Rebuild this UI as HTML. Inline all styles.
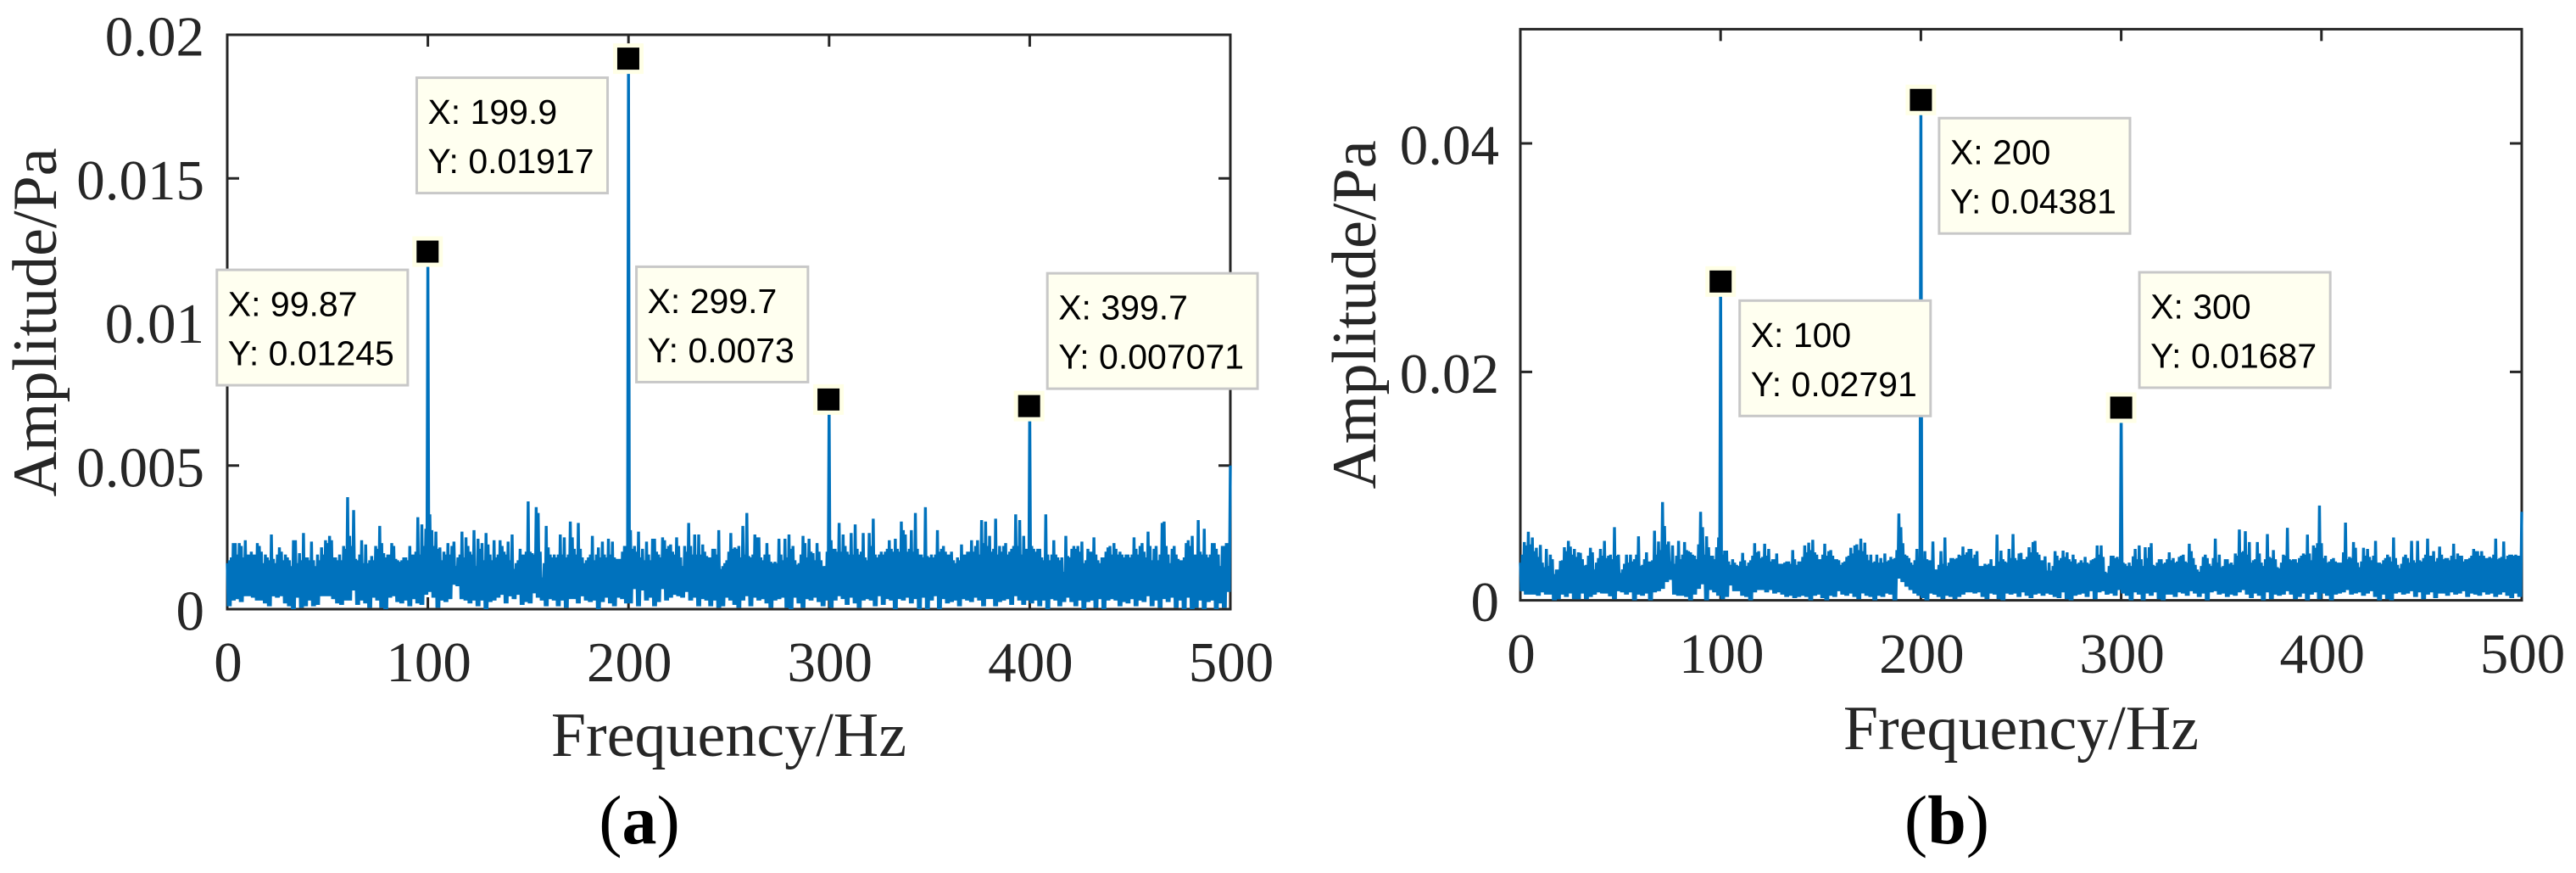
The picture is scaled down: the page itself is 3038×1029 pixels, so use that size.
<!DOCTYPE html>
<html lang="en">
<head>
<meta charset="utf-8">
<title>Amplitude spectra (a) and (b)</title>
<style>
html,body{margin:0;padding:0;background:#fff;width:3038px;height:1029px;overflow:hidden}
svg{display:block}
.serif{font-family:"Liberation Serif",serif;fill:#262626}
.tip{font-family:"Liberation Sans",sans-serif;fill:#000}
</style>
</head>
<body>
<svg id="figure" xmlns="http://www.w3.org/2000/svg" width="3038" height="1029" viewBox="0 0 3038 1029"></svg>
<script>
// Shared axis ticks
const xTickValues = [0, 100, 200, 300, 400, 500];
const xTickLabels = ['0', '100', '200', '300', '400', '500'];

// Panel (a): values in 1e-3 Pa. Upper envelope at 1 Hz steps (0..500), lower envelope at 2 Hz steps.
const yTickValuesA = [0, 0.005, 0.01, 0.015, 0.02];
const yTickLabelsA = ['0', '0.005', '0.01', '0.015', '0.02'];
const upperA = [
1.6,1.7,1.8,2.3,2.3,1.9,2.3,2.2,1.8,2.4,
1.9,1.9,2.0,1.9,1.9,2.3,2.2,2.0,1.6,1.9,
1.8,1.7,2.6,1.75,1.6,1.9,2.15,2.0,1.7,1.9,
1.8,1.7,1.5,2.4,2.4,1.6,1.95,1.7,2.65,1.8,
1.8,1.7,2.35,1.7,1.5,1.9,1.7,2.15,1.9,2.4,
2.3,2.55,2.4,1.8,1.8,1.7,1.9,1.7,2.2,2.1,
3.9,2.55,2.2,3.45,1.75,1.7,1.9,2.4,1.6,2.25,
1.6,1.7,1.85,1.7,2.2,2.1,2.9,2.3,1.95,1.8,
1.9,1.9,2.3,2.2,1.75,1.7,1.65,1.7,1.8,1.8,
1.7,2.2,1.9,1.9,2.0,3.2,1.9,2.95,2.2,2.8,
12.45,3.3,2.75,2.2,2.7,2.1,2.15,1.7,2.0,1.9,
2.3,1.9,2.2,2.35,1.5,1.8,1.9,2.7,1.8,2.5,
2.2,2.0,1.9,2.75,1.5,2.45,2.1,2.3,1.7,2.65,
2.25,1.9,1.7,2.4,1.8,1.9,2.4,2.2,2.0,1.9,
2.35,1.7,2.6,1.4,1.6,1.7,2.1,1.9,1.9,2.0,
3.75,2.0,1.95,1.9,3.55,3.35,2.0,1.1,1.6,2.9,
2.15,1.9,1.8,1.9,1.8,1.9,2.6,1.9,2.5,1.8,
1.9,3.05,2.5,2.1,1.9,3.0,2.1,1.8,1.6,1.7,
1.8,1.9,2.55,1.7,1.9,2.15,1.8,2.35,1.9,1.8,
2.45,1.9,2.35,1.8,1.75,1.75,1.75,2.0,2.2,2.2,
19.17,2.75,2.1,2.2,2.0,2.7,1.8,2.1,1.7,2.35,
1.9,1.7,2.45,2.45,2.0,1.9,1.8,2.5,2.4,2.1,
2.2,2.25,2.0,1.9,2.5,2.2,1.8,1.5,2.2,2.0,
3.0,2.2,1.9,2.6,1.9,2.6,1.9,2.25,2.0,1.85,
1.8,1.8,2.1,2.1,1.9,2.75,1.4,1.5,1.6,1.7,
2.0,2.65,2.1,2.15,2.1,2.2,1.8,2.9,1.9,3.35,
1.85,1.8,1.9,2.6,2.5,2.5,1.8,1.7,1.9,2.3,
1.9,1.65,1.6,1.65,1.6,2.45,1.9,1.7,2.45,1.8,
2.6,2.1,2.2,1.7,1.55,1.6,1.9,2.55,2.3,1.8,
2.45,2.0,1.95,1.7,2.3,2.0,1.7,1.5,1.5,2.0,
7.3,2.4,2.1,2.1,2.0,3.0,2.0,2.6,2.2,2.0,
1.9,2.65,1.9,2.95,2.1,1.9,2.0,2.65,1.8,1.7,
2.65,2.2,3.15,1.9,1.8,1.9,2.0,1.9,2.0,2.1,
2.4,2.1,2.0,2.45,2.1,2.0,3.05,2.75,2.6,2.0,
2.1,2.75,2.0,3.35,2.1,1.9,1.9,1.8,3.55,1.85,
1.8,1.9,1.8,1.9,2.75,2.0,2.1,2.2,2.0,1.9,
1.9,2.0,1.7,1.6,1.8,1.7,2.25,1.9,1.9,2.0,
2.0,2.4,2.0,2.2,2.4,1.9,3.1,2.3,3.05,2.2,
2.55,2.0,2.1,3.15,1.9,2.2,2.0,2.2,2.3,1.9,
2.0,2.1,2.2,3.3,2.2,3.1,1.9,2.55,2.1,2.1,
7.07,2.2,2.1,2.0,2.1,2.1,1.8,1.7,3.3,1.9,
1.7,1.9,2.4,1.9,1.8,1.7,1.8,1.3,2.55,1.85,
1.8,2.1,2.2,2.1,2.2,2.0,2.35,1.6,1.7,2.1,
2.0,2.0,2.5,1.9,1.7,1.6,1.8,1.8,2.0,2.15,
2.2,1.9,2.3,2.1,1.9,2.0,1.9,1.8,1.9,1.9,
1.8,1.9,2.5,2.1,1.9,2.2,2.3,2.0,1.8,2.7,
2.2,1.7,2.1,2.2,1.7,1.9,3.0,3.05,2.2,1.9,
1.6,2.1,2.2,1.9,1.75,1.7,1.7,1.8,2.3,2.4,
2.2,2.55,1.9,1.9,3.1,2.0,1.9,2.8,1.9,1.8,
1.9,2.3,2.3,2.1,1.9,1.5,2.2,2.2,2.3,2.3,
5.0];
const lowerA = [
0.1,0.3,0.35,0.25,0.45,0.45,0.4,0.3,0.3,0.2,
0.1,0.45,0.4,0.45,0.2,0.1,0.0,0.4,0.05,0.1,
0.3,0.1,0.15,0.45,0.45,0.45,0.35,0.2,0.15,0.3,
0.3,0.65,0.15,0.3,0.2,0.05,0.4,0.3,0.05,0.0,
0.4,0.45,0.25,0.2,0.3,0.1,0.35,0.2,0.15,0.5,
0.6,0.4,0.05,0.3,0.25,0.35,0.85,0.8,0.35,0.3,
0.2,0.3,0.1,0.3,0.0,0.25,0.3,0.4,0.5,0.2,
0.45,0.35,0.5,0.15,0.25,0.2,0.55,0.4,0.3,0.1,
0.35,0.3,0.1,0.3,0.05,0.35,0.35,0.2,0.45,0.3,
0.25,0.3,0.0,0.25,0.4,0.2,0.1,0.4,0.35,0.2,
0.2,0.7,0.1,0.65,0.3,0.4,0.1,0.25,0.7,0.3,
0.4,0.5,0.45,0.4,0.6,0.3,0.4,0.1,0.35,0.3,
0.1,0.3,0.05,0.1,0.4,0.3,0.15,0.05,0.3,0.45,
0.1,0.4,0.3,0.35,0.2,0.05,0.3,0.35,0.4,0.05,
0.0,0.4,0.2,0.05,0.35,0.3,0.4,0.25,0.1,0.3,
0.05,0.3,0.45,0.35,0.15,0.4,0.2,0.05,0.3,0.35,
0.3,0.1,0.45,0.15,0.35,0.3,0.0,0.35,0.3,0.4,
0.2,0.35,0.0,0.4,0.0,0.3,0.45,0.0,0.35,0.2,
0.25,0.3,0.1,0.35,0.3,0.25,0.4,0.3,0.1,0.35,
0.35,0.1,0.25,0.3,0.35,0.15,0.45,0.3,0.15,0.3,
0.2,0.3,0.1,0.3,0.0,0.35,0.3,0.1,0.25,0.4,
0.25,0.1,0.3,0.0,0.25,0.3,0.05,0.35,0.0,0.3,
0.35,0.3,0.1,0.25,0.2,0.35,0.1,0.3,0.25,0.45,
0.1,0.3,0.05,0.35,0.25,0.4,0.05,0.3,0.0,0.4,
0.0,0.05,0.3,0.0,0.25,0.3,0.0,0.2,0.05,0.6];
const peakFreqA = [99.87, 199.9, 299.7, 399.7];
const peakAmpA = [0.01245, 0.01917, 0.0073, 0.007071];
const peakXTextA = ['99.87', '199.9', '299.7', '399.7'];
const peakYTextA = ['0.01245', '0.01917', '0.0073', '0.007071'];

// Panel (b)
const yTickValuesB = [0, 0.02, 0.04];
const yTickLabelsB = ['0', '0.02', '0.04'];
const upperB = [
3.3,4.0,5.1,4.8,6.0,4.9,5.5,4.3,4.6,3.8,
4.85,3.3,2.9,4.5,3.0,4.0,3.6,2.3,2.7,2.7,
3.45,3.5,4.65,4.3,5.2,4.7,4.0,4.5,3.8,4.2,
4.15,3.6,3.05,3.1,3.9,4.6,4.2,2.7,3.3,3.7,
4.5,3.9,5.2,3.7,3.9,4.0,3.6,6.4,3.9,4.0,
2.4,2.7,3.2,4.0,3.3,4.0,3.4,3.6,4.0,5.6,
3.0,3.1,3.6,4.2,3.4,3.4,3.5,6.1,4.0,5.15,
4.4,8.6,6.5,4.9,5.15,3.4,4.8,3.2,3.9,5.2,
3.6,4.0,5.1,4.4,4.3,4.2,4.0,3.9,3.6,4.9,
7.75,6.4,4.0,5.6,4.65,3.9,3.9,3.6,4.65,5.5,
27.91,4.0,4.35,4.35,3.4,3.1,3.6,3.3,3.1,3.0,
3.4,4.15,3.5,3.0,3.3,3.5,3.9,5.0,4.2,4.3,
3.7,3.8,4.95,3.9,4.5,3.4,3.6,3.6,4.1,3.2,
3.2,3.2,3.3,3.4,3.4,3.2,4.4,3.6,3.1,3.4,
3.4,3.8,4.8,4.2,5.05,4.4,5.3,4.2,4.0,3.6,
3.6,4.0,4.95,3.9,4.3,4.4,3.9,3.6,3.6,3.5,
3.1,3.3,3.4,3.8,3.9,4.6,4.1,4.8,4.9,4.4,
5.4,4.3,5.05,4.0,3.5,4.0,3.3,3.4,4.0,3.3,
3.7,3.3,4.1,3.4,3.5,3.8,3.6,3.7,4.4,7.6,
6.4,5.0,4.0,3.9,3.7,3.3,3.1,3.5,4.5,3.6,
43.81,3.6,4.3,3.6,3.5,3.5,5.15,2.7,2.7,3.1,
4.3,3.2,5.5,3.0,3.3,3.7,3.7,3.6,3.7,4.0,
3.9,4.7,4.0,4.2,4.5,4.5,3.7,4.0,4.3,3.0,
3.0,3.0,3.2,3.1,3.2,3.6,3.0,3.0,5.75,3.4,
4.35,3.6,3.4,3.3,4.5,3.7,5.8,3.7,3.5,4.1,
4.15,3.6,3.6,3.8,4.65,4.2,5.1,5.2,4.2,4.0,
3.5,3.5,3.85,2.6,3.3,2.6,3.0,4.3,3.9,3.5,
3.7,4.35,3.8,4.2,3.6,3.4,4.0,3.6,3.2,3.3,
3.5,3.3,3.8,3.3,3.2,3.5,3.6,3.7,4.8,4.0,
4.8,3.8,2.5,2.4,3.0,3.9,3.9,3.7,3.8,3.6,
16.87,3.3,3.2,3.0,3.3,3.0,3.85,4.5,3.6,4.8,
3.6,3.0,4.65,3.7,4.65,5.0,3.1,3.0,3.3,3.6,
3.6,3.2,3.3,3.6,4.2,3.5,3.7,3.3,3.4,3.8,
3.9,4.0,3.4,3.3,4.95,4.3,3.7,3.1,2.7,2.5,
3.0,3.8,4.0,3.7,3.2,3.0,3.7,5.4,3.3,4.0,
2.9,3.0,3.6,3.6,3.2,3.3,3.1,4.1,3.9,6.2,
4.2,4.3,6.05,4.0,5.1,3.3,3.5,3.6,5.1,4.1,
3.3,3.0,3.6,5.8,3.8,3.7,4.4,3.6,2.9,2.8,
3.3,4.0,3.9,6.35,3.6,3.5,3.6,3.6,3.3,3.7,
3.9,4.1,4.0,5.75,4.1,3.5,4.8,4.6,5.0,8.3,
5.0,3.7,3.9,3.3,3.4,3.6,3.7,3.4,3.3,3.3,
3.3,4.2,6.8,3.6,3.8,3.7,5.1,4.6,3.3,2.9,
3.4,4.6,3.9,4.5,3.8,3.5,3.9,5.2,3.3,3.3,
3.2,3.5,3.7,4.0,3.8,3.4,5.5,3.7,3.1,2.8,
3.2,3.8,4.0,3.7,3.3,5.2,3.5,3.3,5.2,3.5,
3.4,3.7,4.0,5.4,3.9,3.9,4.3,3.4,3.7,4.7,
4.0,3.6,3.7,3.7,3.5,3.9,4.95,3.6,4.1,3.9,
3.9,3.4,3.6,3.6,3.7,3.9,4.5,4.3,4.3,3.9,
4.3,3.9,3.7,3.7,3.8,3.7,4.0,5.4,3.6,3.7,
3.8,5.15,3.6,3.9,4.0,4.0,3.9,4.0,3.9,3.9,
7.75];
const lowerB = [
0.8,0.5,0.5,0.5,0.4,0.7,0.5,0.5,0.0,0.1,
0.5,0.3,0.6,0.1,0.1,0.6,0.1,0.3,0.5,0.7,
0.6,0.6,0.35,0.1,0.8,0.7,0.5,0.7,0.0,0.5,
0.4,0.6,0.0,0.7,0.8,1.0,1.6,1.8,0.5,0.4,
0.4,0.3,0.0,0.5,1.0,1.4,0.0,0.9,0.7,0.4,
0.1,0.3,1.3,0.8,0.8,0.4,0.3,0.0,0.7,0.9,
0.9,0.7,0.9,0.6,0.7,0.5,0.3,0.4,0.2,0.3,
0.4,0.3,0.0,0.4,0.5,0.2,0.0,0.4,0.3,0.8,
0.5,0.4,0.6,0.3,0.1,0.6,0.4,0.3,0.0,0.4,
0.3,0.6,0.5,0.0,1.9,1.6,1.2,0.9,0.6,0.4,
0.2,0.0,0.6,0.5,0.3,0.1,0.4,0.3,0.1,0.3,
0.5,0.7,0.7,0.6,0.7,0.3,0.1,0.6,0.5,0.1,
0.0,0.6,0.5,0.6,0.3,0.7,0.4,0.2,0.5,0.6,
0.4,0.6,0.5,0.3,0.2,0.7,0.1,0.0,0.4,0.5,
0.6,0.3,0.8,0.1,0.7,0.8,0.5,0.6,0.4,0.9,
0.6,0.4,0.0,0.7,0.5,0.0,0.6,0.4,0.7,0.1,
0.0,0.5,0.5,0.3,0.7,0.6,0.4,0.8,0.6,0.3,
0.6,0.0,0.7,0.8,0.5,0.6,0.3,0.5,0.4,0.7,
0.9,0.5,0.2,0.6,0.4,0.0,0.7,0.1,0.5,0.4,
0.5,0.8,0.5,0.1,0.3,0.6,0.0,0.5,0.7,0.1,
0.6,0.4,0.0,0.5,0.6,0.7,0.9,0.5,0.6,0.7,
0.4,0.6,0.8,0.3,0.0,0.5,0.1,0.0,0.6,0.7,
0.5,0.6,0.8,0.3,0.7,0.1,0.5,0.7,0.2,0.6,
0.6,0.4,0.7,0.5,0.6,0.8,0.3,0.6,0.5,0.4,
0.7,0.5,0.6,0.3,0.5,0.7,0.4,0.2,0.6,0.3];
const peakFreqB = [100, 200, 300];
const peakAmpB = [0.02791, 0.04381, 0.01687];
const peakXTextB = ['100', '200', '300'];
const peakYTextB = ['0.02791', '0.04381', '0.01687'];

const SVG_NS = 'http://www.w3.org/2000/svg';
const figure = document.getElementById('figure');

function make(tag, attrs, parent, text) {
  const el = document.createElementNS(SVG_NS, tag);
  for (const k in attrs) el.setAttribute(k, attrs[k]);
  if (text !== undefined) el.textContent = text;
  (parent || figure).appendChild(el);
  return el;
}

function drawPanel(p) {
  const x = f => p.left + (f / 500) * (p.right - p.left);
  const y = a => p.bottom - (a / p.yMax) * (p.bottom - p.top);
  let el;

  // Axes box
  el = make('rect', {x: p.left, y: p.top, width: p.right - p.left, height: p.bottom - p.top, fill: 'none', stroke: '#262626', 'stroke-width': 3});
  
  

  // X ticks and labels
  xTickValues.forEach((v, i) => {
    if (v > 0 && v < 500) {
      el = make('path', {d: `M${x(v)} ${p.bottom}V${p.bottom - 14}M${x(v)} ${p.top}V${p.top + 14}`, stroke: '#262626', 'stroke-width': 3, fill: 'none'});
      
      
    }
    el = make('text', {x: x(v) + 1, y: p.xLabelY, 'text-anchor': 'middle', 'font-size': p.tickSize, class: 'serif'}, null, xTickLabels[i]);
    
    
  });

  // Y ticks and labels
  p.yTicks.forEach((v, i) => {
    if (v > 0 && v < p.yMax) {
      el = make('path', {d: `M${p.left} ${y(v)}H${p.left + 14}M${p.right} ${y(v)}H${p.right - 14}`, stroke: '#262626', 'stroke-width': 3, fill: 'none'});
      
      
    }
    el = make('text', {x: p.yLabelX, y: y(v) + 24.5, 'text-anchor': 'end', 'font-size': p.tickSize, class: 'serif'}, null, p.yLabels[i]);
    
    
  });

  // Spectrum line: alternates upper and lower envelope values
  const pts = [];
  p.upper.forEach((u, i) => {
    pts.push(x(i).toFixed(2) + ',' + y(u / 1000).toFixed(2));
    const low = p.lower[Math.floor(i / 2)];
    if (low !== undefined) pts.push(x(i + 0.5).toFixed(2) + ',' + y(low / 1000).toFixed(2));
  });
  el = make('polyline', {points: pts.join(' '), fill: 'none', stroke: '#0072BD', 'stroke-width': 3.4, 'stroke-linejoin': 'miter'});
  
  

  // Titles
  el = make('text', {x: (p.left + p.right) / 2, y: p.xTitleY, 'text-anchor': 'middle', 'font-size': 74, class: 'serif'}, null, 'Frequency/Hz');
  
  
  el = make('text', {x: p.yTitleX, y: p.yTitleY, 'text-anchor': 'middle', 'font-size': 74, class: 'serif', transform: `rotate(-90 ${p.yTitleX} ${p.yTitleY})`}, null, 'Amplitude/Pa');
  
  

  // Caption
  el = make('text', {x: p.captionX, y: 994, 'text-anchor': 'middle', 'font-size': 82, 'font-family': '"Liberation Serif",serif', fill: '#000'});
  
  
  make('tspan', {}, el, '(');
  make('tspan', {'font-weight': 'bold'}, el, p.id);
  make('tspan', {}, el, ')');

  // Peak markers and datatips
  p.peakFreq.forEach((f, i) => {
    const cx = x(f), cy = y(p.peakAmp[i]);
    el = make('rect', {x: cx - 18, y: cy - 18, width: 36, height: 36, fill: '#FFFFE6'});
    
    
    el = make('rect', {x: cx - 13, y: cy - 13, width: 26, height: 26, fill: '#000'});
    
    

    const bx = cx + p.tipDx[i], by = cy + p.tipDy[i];
    const box = make('rect', {x: bx + 1.5, y: by + 1.5, width: 230, height: 136, fill: '#FFFFF0', stroke: '#C8C8C8', 'stroke-width': 3});
    
    
    const tx = make('text', {x: bx + 14.5, y: by + 56, 'font-size': 41, class: 'tip'}, null, 'X: ' + p.peakXText[i]);
    
    
    const ty = make('text', {x: bx + 14.5, y: by + 114, 'font-size': 41, class: 'tip'}, null, 'Y: ' + p.peakYText[i]);
    
    
    box.setAttribute('width', Math.max(tx.getComputedTextLength(), ty.getComputedTextLength()) + 32 - 3);
  });
}

drawPanel({
  id: 'a', left: 268, right: 1451, top: 41, bottom: 718, yMax: 0.02,
  yTicks: yTickValuesA, yLabels: yTickLabelsA, upper: upperA, lower: lowerA,
  peakFreq: peakFreqA, peakAmp: peakAmpA, peakXText: peakXTextA, peakYText: peakYTextA,
  tipDx: [-250, -251, -228, 20], tipDy: [20, 21, -158, -158],
  tickSize: 67, xLabelY: 803, yLabelX: 241, xTitleY: 891, yTitleX: 66, yTitleY: 380, captionX: 754
});
drawPanel({
  id: 'b', left: 1793, right: 2974, top: 34.4, bottom: 707.6, yMax: 0.05,
  yTicks: yTickValuesB, yLabels: yTickLabelsB, upper: upperB, lower: lowerB,
  peakFreq: peakFreqB, peakAmp: peakAmpB, peakXText: peakXTextB, peakYText: peakYTextB,
  tipDx: [21, 20, 20], tipDy: [21, 20, -161],
  tickSize: 67, xLabelY: 793, yLabelX: 1768, xTitleY: 883, yTitleX: 1622, yTitleY: 371, captionX: 2296
});
</script>
</body>
</html>
